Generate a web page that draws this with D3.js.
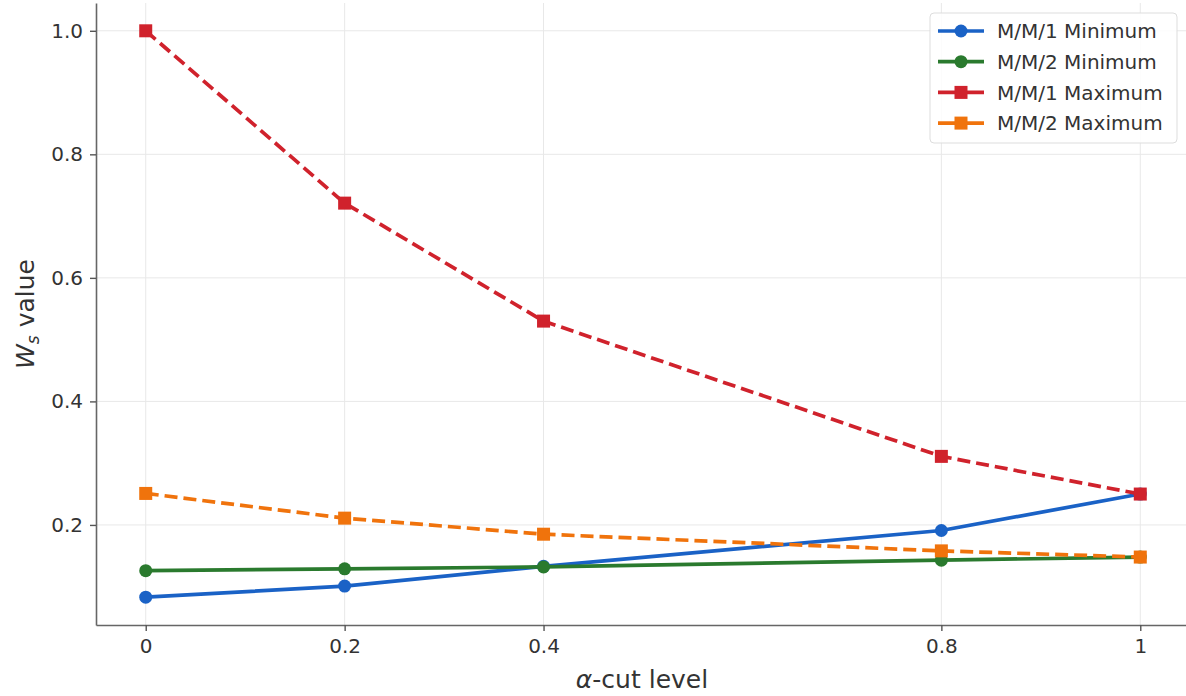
<!DOCTYPE html>
<html>
<head>
<meta charset="utf-8">
<script src="https://cdn.jsdelivr.net/npm/d3@7"></script>
<style>
  body { margin: 0; background: #fff; }
  svg { display: block; font-family: "DejaVu Sans", sans-serif; }
</style>
</head>
<body>
<div id="chart"></div>
<script>
// alpha-cut levels
const alphaLevels = [0, 0.2, 0.4, 0.8, 1];
const xTickLabels = ["0", "0.2", "0.4", "0.8", "1"];
const yTicks = [0.2, 0.4, 0.6, 0.8, 1.0];

// Ws values
const mm1Min = [0.083, 0.101, 0.133, 0.191, 0.25];
const mm2Min = [0.126, 0.129, 0.132, 0.143, 0.148];
const mm1Max = [1.0, 0.721, 0.53, 0.311, 0.25];
const mm2Max = [0.251, 0.211, 0.185, 0.158, 0.148];

const seriesNames = ["M/M/1 Minimum", "M/M/2 Minimum", "M/M/1 Maximum", "M/M/2 Maximum"];
const seriesColors = ["#1a62c6", "#2a7a2e", "#d0222c", "#f0730c"];

const width = 1186, height = 696;
const margin = {top: 3, right: -4, bottom: 71, left: 96};

const svg = d3.select("#chart").append("svg")
    .attr("width", width)
    .attr("height", height);

const xScale = d3.scaleLinear()
    .domain([-0.05, 1.05])
    .range([margin.left, width - margin.right]);

const yScale = d3.scaleLinear()
    .domain([0.038, 1.045])
    .range([height - margin.bottom, margin.top]);

// grid lines
const grid = svg.append("g");
grid.selectAll(".vgrid")
    .data(alphaLevels)
    .enter().append("line")
    .attr("x1", d => xScale(d)).attr("x2", d => xScale(d))
    .attr("y1", margin.top).attr("y2", height - margin.bottom)
    .attr("stroke", "#e8e8e8").attr("stroke-width", 1);
grid.selectAll(".hgrid")
    .data(yTicks)
    .enter().append("line")
    .attr("x1", margin.left).attr("x2", width)
    .attr("y1", d => yScale(d)).attr("y2", d => yScale(d))
    .attr("stroke", "#e8e8e8").attr("stroke-width", 1);

// axes
const xAxis = svg.append("g")
    .attr("transform", `translate(0,${height - margin.bottom})`)
    .call(d3.axisBottom(xScale).tickValues(alphaLevels)
        .tickFormat((d, i) => xTickLabels[i]).tickSize(6).tickSizeOuter(0));
const yAxis = svg.append("g")
    .attr("transform", `translate(${margin.left},0)`)
    .call(d3.axisLeft(yScale).tickValues(yTicks)
        .tickFormat(d3.format(".1f")).tickSize(6).tickSizeOuter(0));

[xAxis, yAxis].forEach(ax => {
    ax.select(".domain").attr("stroke", "#666").attr("stroke-width", 1.6);
    ax.selectAll(".tick line").attr("stroke", "#555").attr("stroke-width", 1.4);
    ax.selectAll(".tick text")
        .attr("fill", "#333")
        .style("font-size", "20px")
        .style("font-family", "DejaVu Sans");
});
xAxis.selectAll(".tick text").attr("dy", "0.95em");
yAxis.selectAll(".tick text").attr("dx", "-0.2em");

// axis titles
const xTitle = svg.append("text")
    .attr("x", 642)
    .attr("y", 688)
    .attr("text-anchor", "middle")
    .attr("fill", "#333")
    .style("font-size", "25px");
xTitle.append("tspan").attr("font-style", "italic").text("α");
xTitle.append("tspan").text("-cut level");

const yTitle = svg.append("text")
    .attr("transform", "translate(34,314) rotate(-90)")
    .attr("text-anchor", "middle")
    .attr("fill", "#333")
    .style("font-size", "25px");
yTitle.append("tspan").attr("font-style", "italic").text("W");
yTitle.append("tspan").attr("font-style", "italic").attr("font-size", "17px").attr("dy", 5).text("s");
yTitle.append("tspan").attr("dy", -5).text(" value");

// series
const allSeries = [mm1Min, mm2Min, mm1Max, mm2Max].map((vals, i) => ({
    name: seriesNames[i],
    color: seriesColors[i],
    dashed: i >= 2,
    marker: i >= 2 ? "square" : "circle",
    values: vals.map((v, j) => ({x: alphaLevels[j], y: v}))
}));

const lineGen = d3.line().x(d => xScale(d.x)).y(d => yScale(d.y));

allSeries.forEach(s => {
    const g = svg.append("g");
    g.append("path")
        .datum(s.values)
        .attr("d", lineGen)
        .attr("fill", "none")
        .attr("stroke", s.color)
        .attr("stroke-width", 3.7)
        .attr("stroke-dasharray", s.dashed ? "13,6" : null);
    if (s.marker === "circle") {
        g.selectAll("circle")
            .data(s.values)
            .enter().append("circle")
            .attr("cx", d => xScale(d.x))
            .attr("cy", d => yScale(d.y))
            .attr("r", 6.5)
            .attr("fill", s.color);
    } else {
        g.selectAll("rect")
            .data(s.values)
            .enter().append("rect")
            .attr("x", d => xScale(d.x) - 6.5)
            .attr("y", d => yScale(d.y) - 6.5)
            .attr("width", 13)
            .attr("height", 13)
            .attr("fill", s.color);
    }
});

// legend
const legend = svg.append("g").attr("transform", "translate(930,13)");
legend.append("rect")
    .attr("width", 247).attr("height", 130)
    .attr("rx", 4)
    .attr("fill", "#fff").attr("fill-opacity", 0.85)
    .attr("stroke", "#ddd").attr("stroke-width", 1);

allSeries.forEach((s, i) => {
    const yy = 18 + i * 30.7;
    legend.append("line")
        .attr("x1", 8).attr("x2", 54)
        .attr("y1", yy).attr("y2", yy)
        .attr("stroke", s.color).attr("stroke-width", 3.7);
    if (s.marker === "circle") {
        legend.append("circle").attr("cx", 31).attr("cy", yy).attr("r", 6.5).attr("fill", s.color);
    } else {
        legend.append("rect").attr("x", 24.5).attr("y", yy - 6.5).attr("width", 13).attr("height", 13).attr("fill", s.color);
    }
    legend.append("text")
        .attr("x", 67).attr("y", yy)
        .attr("dy", "0.36em")
        .attr("fill", "#333")
        .style("font-size", "20px")
        .text(s.name);
});
</script>
</body>
</html>
